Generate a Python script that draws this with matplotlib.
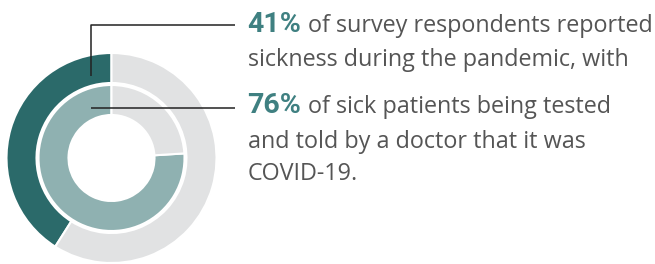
import matplotlib
matplotlib.use("Agg")
import matplotlib.pyplot as plt

W, H = 655, 264

# Data
outer_labels = ["Reported sickness", "No sickness"]
outer_values = [41, 59]
inner_labels = ["Tested & told COVID-19", "Other"]
inner_values = [76, 24]

stat1 = "41%"
text1 = ["of survey respondents reported", "sickness during the pandemic, with"]
stat2 = "76%"
text2 = ["of sick patients being tested", "and told by a doctor that it was", "COVID-19."]

DARK = "#2b6a6a"
LIGHT_TEAL = "#8fb1b1"
GREY = "#e1e2e3"
NUM = "#3f8081"
BODY = "#555555"

fig = plt.figure(figsize=(W / 100, H / 100), dpi=100)
ax = fig.add_axes([0, 0, 1, 1])

def Y(y):
    return H - y

cx, cy = 111.5, Y(158)
ax.pie(outer_values, colors=[DARK, GREY], radius=105, center=(cx, cy),
       startangle=90, counterclock=True,
       wedgeprops=dict(width=30, edgecolor="white", linewidth=1.5))
ax.pie(inner_values, colors=[LIGHT_TEAL, GREY], radius=73, center=(cx, cy),
       startangle=90, counterclock=True,
       wedgeprops=dict(width=30, edgecolor="white", linewidth=1.5))

ax.set_xlim(0, W)
ax.set_ylim(0, H)
ax.set_aspect("equal")
ax.axis("off")

# leader lines
ax.plot([90.5, 90.5, 235], [Y(76), Y(25), Y(25)], color="#222222", lw=1.1, solid_capstyle="butt")
ax.plot([90.5, 235], [Y(108.3), Y(108.3)], color="#222222", lw=1.1, solid_capstyle="butt")

num_font = dict(family=["Roboto", "DejaVu Sans"], weight="bold", size=20.5, color=NUM)
body_font = dict(family=["Open Sans", "DejaVu Sans"], size=16.8, color=BODY)

fig.canvas.draw()
r = fig.canvas.get_renderer()
x0 = 247.5

def stat_line(stat, rest, baseline):
    t = ax.text(x0, Y(baseline), stat, va="baseline", ha="left", **num_font)
    bb = t.get_window_extent(renderer=r)
    ax.text(bb.x1 + 7, Y(baseline), rest, va="baseline", ha="left", **body_font)

stat_line(stat1, text1[0], 32.3)
ax.text(x0, Y(66), text1[1], va="baseline", ha="left", **body_font)
stat_line(stat2, text2[0], 113.3)
ax.text(x0, Y(147.5), text2[1], va="baseline", ha="left", **body_font)
ax.text(x0, Y(180), text2[2], va="baseline", ha="left", **body_font)

fig.savefig("out.png", dpi=100)
